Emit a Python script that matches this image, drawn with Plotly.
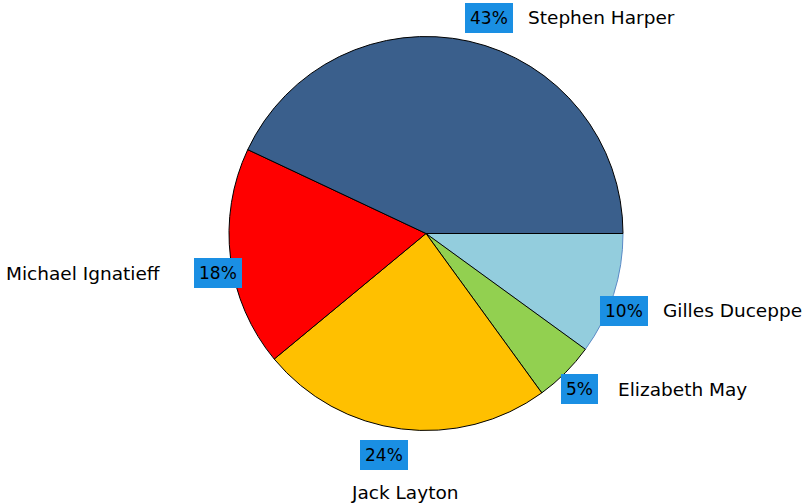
import math
import plotly.graph_objects as go

candidates = ["Stephen Harper", "Michael Ignatieff", "Jack Layton", "Elizabeth May", "Gilles Duceppe"]
shares = [43, 18, 24, 5, 10]
slice_colors = ["#3a5f8c", "#ff0000", "#ffc000", "#92d050", "#93cddd"]
edge_colors = ["#000000", "#000000", "#000000", "#000000", "#5a8ac6"]

# label styling (best-fit nudges of the label angle, degrees)
label_nudge = [-4.9, 2.9, -4.3, 1.6, -1.9]

W, H = 803, 504
cx, cy = 426, 233.5
rx, ry = 190, 204          # outline of the reference pie
R = 197                     # plotly pies are circular: use a compromise radius
label_k = 1.11

# Slices run counterclockwise from 3 o'clock; feed them clockwise in reverse order.
fig = go.Figure(go.Pie(
    labels=candidates[::-1], values=shares[::-1], sort=False,
    direction="clockwise", rotation=90,
    marker=dict(colors=slice_colors[::-1], line=dict(color=edge_colors[::-1], width=1)),
    textinfo="none", hoverinfo="label+percent", showlegend=False,
    domain=dict(x=[(cx - R) / W, (cx + R) / W], y=[(H - cy - R) / H, (H - cy + R) / H]),
))

total = sum(shares)
annotations = []
start = 0.0
for name, v, nudge in zip(candidates, shares, label_nudge):
    span = 360.0 * v / total
    mid_deg = start + span / 2
    start += span
    mid = math.radians(mid_deg + nudge)
    px = cx + label_k * rx * math.cos(mid)
    py = cy - label_k * ry * math.sin(mid)
    x, y = px / W, 1 - py / H
    pct = f"{round(100 * v / total)}%"
    annotations.append(dict(x=x, y=y, xref="paper", yref="paper", text=pct, showarrow=False,
                            xanchor="center", yanchor="middle",
                            bgcolor="#1a8fe3", bordercolor="#1a8fe3", borderwidth=1, borderpad=4,
                            font=dict(family="DejaVu Sans", size=17, color="#000000")))
    c, s = math.cos(math.radians(mid_deg)), math.sin(math.radians(mid_deg))
    if s < -0.9:
        nm = dict(xanchor="center", yanchor="middle", xshift=21, yshift=-37)
    elif c > 0:
        nm = dict(xanchor="left", yanchor="middle", xshift=37)
    else:
        nm = dict(xanchor="right", yanchor="middle", xshift=-55)
    annotations.append(dict(x=x, y=y, xref="paper", yref="paper", text=name, showarrow=False,
                            font=dict(family="DejaVu Sans", size=18.5, color="#000000"), **nm))

fig.update_layout(width=W, height=H, margin=dict(l=0, r=0, t=0, b=0),
                  paper_bgcolor="white", plot_bgcolor="white", annotations=annotations)
fig.write_html("out.html", config={"displayModeBar": False},
               post_script="document.body.style.margin='0';")
